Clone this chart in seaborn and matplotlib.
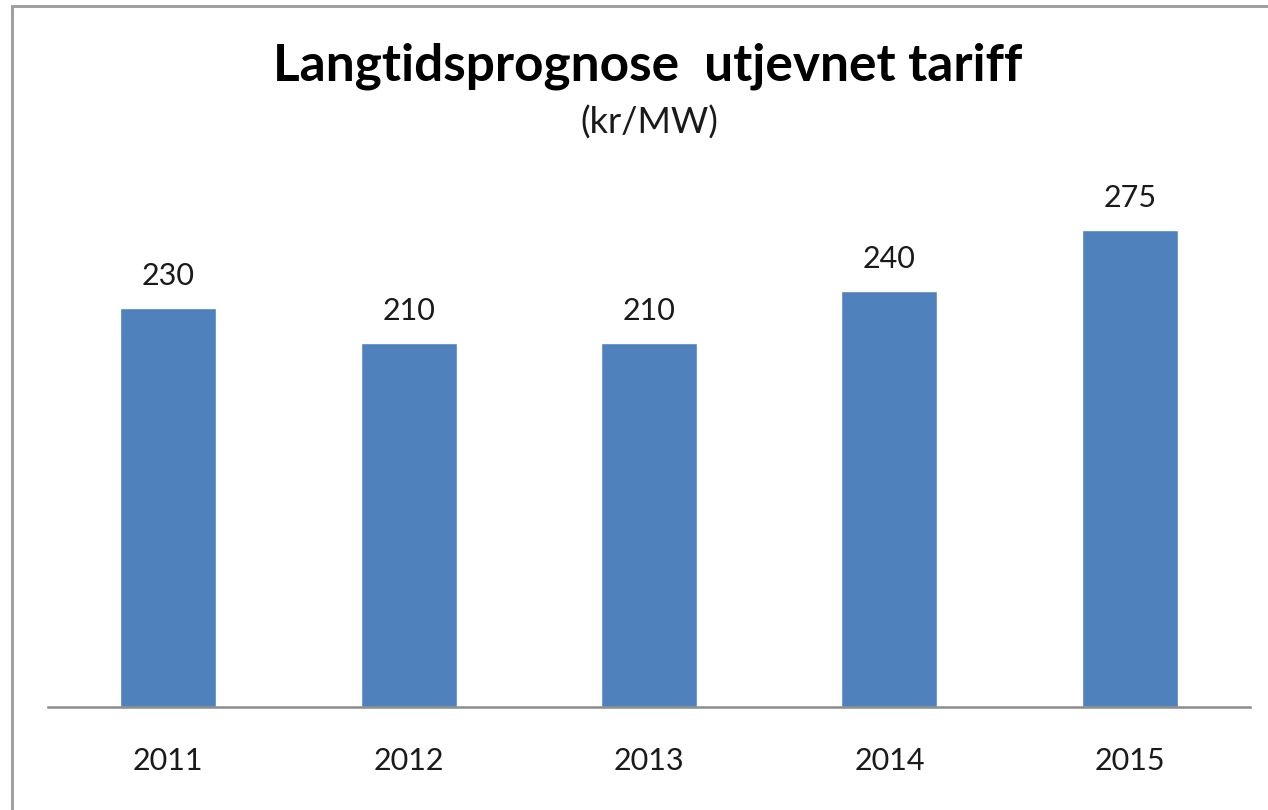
import matplotlib
matplotlib.use("Agg")
import matplotlib.pyplot as plt
import seaborn as sns
import pandas as pd
from matplotlib.patches import Rectangle

years = ["2011", "2012", "2013", "2014", "2015"]
values = [230, 210, 210, 240, 275]
title = "Langtidsprognose  utjevnet tariff"
subtitle = "(kr/MW)"

sns.set_theme(style="white")
plt.rcParams['font.family'] = ['Lato', 'DejaVu Sans']

W, H = 1268, 810
fig = plt.figure(figsize=(W / 100, H / 100), dpi=100)
fig.patch.set_facecolor("white")

left, right = 48 / W, 1250 / W
bottom = 1 - 707 / H
top = 1 - 186.5 / H
ax = fig.add_axes([left, bottom, right - left, top - bottom])

df = pd.DataFrame({"year": years, "value": values})
sns.barplot(data=df, x="year", y="value", color="#4F81BD", saturation=1,
            width=0.4, ax=ax)
ax.set_ylim(0, 300)
ax.set_xlim(-0.5, 4.5)
for s in ["top", "right", "left"]:
    ax.spines[s].set_visible(False)
ax.spines["bottom"].set_color("#8c8c8c")
ax.spines["bottom"].set_linewidth(1.8)
ax.set_yticks([])
ax.set_xlabel("")
ax.set_ylabel("")
ax.tick_params(axis="x", length=0, pad=29, labelsize=22, labelcolor="#1a1a1a")
ax.bar_label(ax.containers[0], labels=[str(v) for v in values], padding=13,
             fontsize=22, color="#1a1a1a")

fig.text(648 / W, 1 - 80 / H, title, ha="center", va="baseline", fontsize=37,
         fontweight="bold", color="black")
fig.text(649 / W, 1 - 134 / H, subtitle, ha="center", va="baseline", fontsize=26,
         color="#1a1a1a")

fig.patches.append(Rectangle((12 / W, -0.1), 1.2, (H - 6) / H + 0.1,
                             transform=fig.transFigure, fill=False,
                             edgecolor="#a0a0a0", linewidth=2.2))

fig.savefig("out.png", dpi=100, facecolor="white")
